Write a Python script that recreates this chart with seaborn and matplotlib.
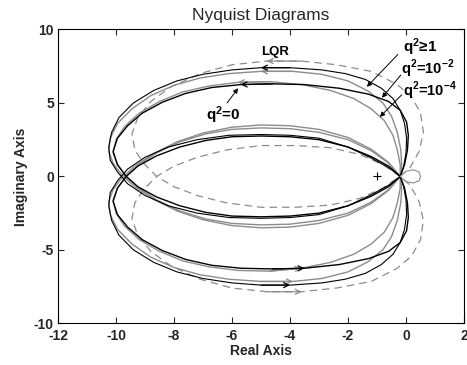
import numpy as np
import pandas as pd
import matplotlib
matplotlib.use("Agg")
import matplotlib.pyplot as plt
import seaborn as sns

# ---- data (upper half, omega > 0) ----
lqr_x = [-0.2, 0.14, 0.45, 0.6, 0.5, 0.2, -0.3, -1.2, -2.4, -3.6, -4.8, -6.0, -7.1, -8.1, -8.8, -9.25, -9.45, -9.35, -9.05, -8.6, -8.0, -7.2, -6.2, -5.0, -3.8, -2.6, -1.6, -0.8, -0.2]
lqr_y = [0.0, 0.6, 1.7, 3.0, 4.3, 5.4, 6.25, 7.15, 7.6, 7.85, 7.85, 7.6, 7.0, 6.1, 5.1, 4.0, 2.9, 1.8, 0.9, 0.0, -0.7, -1.3, -1.8, -2.1, -2.1, -1.95, -1.5, -0.8, 0.0]

q1_x = [-0.2, -0.08, 0.0, 0.02, -0.05, -0.2, -0.45, -0.85, -1.4, -2.1, -2.9, -4.0, -5.0, -6.0, -7.0, -7.9, -8.7, -9.4, -9.9, -10.15, -10.25, -10.2, -9.95, -9.6, -9.0, -8.2, -7.2, -6.1, -5.0, -4.0, -3.0, -2.0, -1.2, -0.6, -0.2]
q1_y = [0.0, 0.7, 1.6, 2.6, 3.6, 4.5, 5.3, 6.0, 6.6, 7.0, 7.25, 7.4, 7.4, 7.25, 6.95, 6.5, 5.85, 5.0, 4.0, 3.0, 2.0, 1.1, 0.3, -0.5, -1.3, -2.0, -2.5, -2.8, -2.85, -2.8, -2.6, -2.0, -1.25, -0.6, 0.0]

q2_x = [-0.2, -0.15, -0.18, -0.3, -0.5, -0.8, -1.3, -2.0, -2.9, -3.9, -5.0, -6.1, -7.1, -8.0, -8.8, -9.45, -9.95, -10.2, -10.25, -10.1, -9.8, -9.35, -8.7, -7.9, -7.0, -6.0, -5.0, -4.0, -3.0, -2.0, -1.2, -0.6, -0.2]
q2_y = [0.0, 0.8, 1.8, 3.0, 4.1, 5.0, 5.8, 6.5, 6.95, 7.15, 7.15, 7.0, 6.7, 6.2, 5.5, 4.6, 3.6, 2.6, 1.7, 0.9, 0.1, -0.7, -1.55, -2.35, -2.95, -3.35, -3.5, -3.45, -3.2, -2.65, -1.85, -0.95, 0.0]

q4_x = [-0.2, -0.2, -0.3, -0.45, -0.75, -1.2, -1.8, -2.6, -3.6, -4.7, -5.8, -6.8, -7.7, -8.5, -9.2, -9.7, -10.0, -10.1, -9.95, -9.65, -9.2, -8.6, -7.8, -6.9, -6.0, -5.0, -4.0, -3.0, -2.0, -1.2, -0.6, -0.2]
q4_y = [0.0, 0.8, 1.8, 2.8, 3.8, 4.6, 5.3, 5.85, 6.25, 6.45, 6.4, 6.15, 5.75, 5.1, 4.3, 3.4, 2.5, 1.6, 0.8, 0.0, -0.8, -1.6, -2.35, -2.9, -3.2, -3.3, -3.25, -3.0, -2.5, -1.75, -0.9, 0.0]

q0_x = [-0.2, -0.05, 0.05, 0.08, 0.02, -0.2, -0.6, -1.3, -2.3, -3.5, -4.6, -5.7, -6.7, -7.6, -8.4, -9.1, -9.6, -9.95, -10.1, -9.95, -9.65, -9.25, -8.6, -7.8, -6.9, -6.0, -5.0, -4.0, -3.0, -2.0, -1.2, -0.6, -0.2]
q0_y = [0.0, 0.8, 1.8, 2.8, 3.7, 4.5, 5.1, 5.6, 6.0, 6.25, 6.3, 6.25, 6.05, 5.65, 5.05, 4.3, 3.45, 2.6, 1.7, 0.8, 0.0, -0.7, -1.4, -2.0, -2.45, -2.7, -2.75, -2.7, -2.5, -2.0, -1.35, -0.7, 0.0]

small_x = [-0.2, 0.0, 0.25, 0.45, 0.5]
small_y = [0.0, 0.35, 0.45, 0.3, 0.0]

critical_x = [-1.0]
critical_y = [0.0]

x_ticks = [-12, -10, -8, -6, -4, -2, 0, 2]
y_ticks = [-10, -5, 0, 5, 10]

sns.set_style("ticks")
plt.rcParams['font.family'] = ['Liberation Sans', 'DejaVu Sans']
plt.rcParams['mathtext.fontset'] = 'custom'
plt.rcParams['mathtext.bf'] = 'Liberation Sans:bold'
plt.rcParams['mathtext.rm'] = 'Liberation Sans'

fig = plt.figure(figsize=(4.67, 3.65), dpi=100)
ax = fig.add_axes([0.1242, 0.1142, 0.8694, 0.8050])

GRAY = '#8c8c8c'
curves = [
    (lqr_x, lqr_y, GRAY, (0, (6, 4)), 0.9),
    (q2_x, q2_y, GRAY, '-', 1.0),
    (q4_x, q4_y, GRAY, '-', 1.0),
    (q1_x, q1_y, 'black', '-', 0.8),
    (q0_x, q0_y, 'black', '-', 1.0),
    (small_x, small_y, GRAY, '-', 0.8),
]

def add_arrow(xs, ys, i, color):
    ax.annotate('', xy=(xs[i + 1], ys[i + 1]), xytext=(xs[i], ys[i]),
                arrowprops=dict(arrowstyle='->', color=color, lw=0.9,
                                mutation_scale=9, shrinkA=0, shrinkB=0))

for xs, ys, col, ls, lw in curves:
    xs = list(xs); ys = list(ys)
    up = pd.DataFrame({'x': xs, 'y': ys})
    lo = pd.DataFrame({'x': xs[::-1], 'y': [-v for v in ys[::-1]]})
    for d in (up, lo):
        sns.lineplot(data=d, x='x', y='y', sort=False, estimator=None,
                     color=col, linestyle=ls, lw=lw, ax=ax)
    if len(xs) > 10:
        it = int(np.argmax(ys))
        add_arrow(xs, ys, it, col)
        lx = lo['x'].tolist(); ly = lo['y'].tolist()
        ib = int(np.argmin(ly))
        add_arrow(lx, ly, ib, col)

sns.scatterplot(x=critical_x, y=critical_y, marker='+', s=40, color='black',
                linewidth=0.8, ax=ax, zorder=5)

ax.set_xlim(-12, 2)
ax.set_ylim(-10, 10)
ax.set_xticks(x_ticks)
ax.set_yticks(y_ticks)
ax.set_xticklabels([str(t) for t in x_ticks], fontweight='bold', fontsize=10)
ax.set_yticklabels([str(t) for t in y_ticks], fontweight='bold', fontsize=10)
ax.tick_params(direction='in', length=4, width=0.8, top=True, right=True)
ax.tick_params(axis='x', pad=4)
ax.tick_params(axis='y', pad=3)
for s in ax.spines.values():
    s.set_visible(True)
    s.set_linewidth(0.8)
    s.set_color('black')

ax.set_xlabel('Real Axis', fontweight='bold', fontsize=10, labelpad=1)
ax.set_ylabel('Imaginary Axis', fontweight='bold', fontsize=10, labelpad=4)
ax.set_title('Nyquist Diagrams', fontsize=12.5, pad=7)

lab = dict(fontweight='bold', color='black')
ax.text(-4.5, 8.5, 'LQR', fontsize=9.5, ha='center', va='center', **lab)
ax.text(-0.12, 8.8, r'$\mathbf{q^2}$≥1', fontsize=11, ha='left', va='center', **lab)
ax.text(-0.16, 7.3, r'$\mathbf{q^2}$=10$^{\mathbf{-2}}$', fontsize=10.5, ha='left', va='center', **lab)
ax.text(-0.12, 5.85, r'$\mathbf{q^2}$=10$^{\mathbf{-4}}$', fontsize=10.5, ha='left', va='center', **lab)
ax.text(-6.9, 4.15, r'$\mathbf{q^2}$=0', fontsize=11, ha='left', va='center', **lab)

arw = dict(arrowstyle='-|>', color='black', lw=0.7, mutation_scale=7, shrinkA=0, shrinkB=0)
ax.annotate('', xy=(-1.35, 6.1), xytext=(-0.28, 8.3), arrowprops=arw)
ax.annotate('', xy=(-0.83, 5.35), xytext=(-0.18, 6.9), arrowprops=arw)
ax.annotate('', xy=(-0.9, 4.05), xytext=(-0.15, 5.55), arrowprops=arw)
ax.annotate('', xy=(-5.79, 6.0), xytext=(-6.17, 5.0), arrowprops=arw)

fig.savefig('out.png', dpi=100)
